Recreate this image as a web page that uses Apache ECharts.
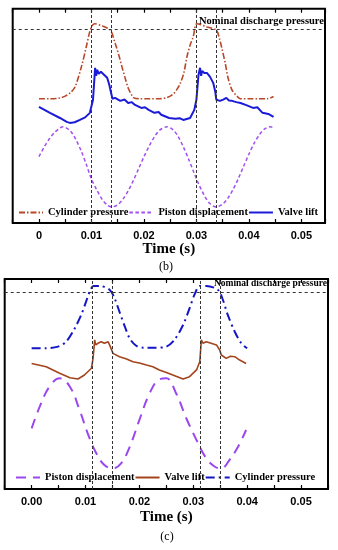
<!DOCTYPE html>
<html>
<head>
<meta charset="utf-8">
<script src="https://cdn.jsdelivr.net/npm/echarts@6/dist/echarts.min.js"></script>
<style>
html,body{margin:0;padding:0;background:#fff;}
#chart{width:338px;height:550px;}
</style>
</head>
<body>
<div id="chart"></div>
<script>
// ---------- Panel (b) ----------
const bCylT = [0, 0.002, 0.004, 0.005, 0.006, 0.0069, 0.0081, 0.009, 0.0096, 0.0101, 0.0106, 0.012, 0.0136, 0.0145, 0.0152, 0.0158, 0.0165, 0.017, 0.0176, 0.018, 0.019, 0.021, 0.023, 0.0244, 0.0255, 0.0262, 0.0269, 0.0276, 0.0282, 0.0288, 0.0294, 0.0301, 0.032, 0.0338, 0.0344, 0.0349, 0.0355, 0.036, 0.0368, 0.0378, 0.0384, 0.040, 0.042, 0.0435, 0.0447];
const bCylV = [58, 58, 58.3, 59.2, 60.8, 63.6, 73, 82, 88.5, 92, 93, 92, 90, 84, 78.5, 73, 67, 63, 60, 58.5, 58, 58, 58, 58.5, 60, 62, 65, 70, 77.6, 83, 87, 93, 91.5, 90, 86, 81, 74.5, 68, 62, 59, 58, 58, 58, 58, 59];

const bValT = [0, 0.0021, 0.004, 0.0053, 0.0059, 0.0068, 0.0078, 0.0088, 0.0097, 0.0103, 0.0107, 0.0109, 0.0111, 0.0114, 0.0118, 0.0124, 0.013, 0.0134, 0.0137, 0.014, 0.0145, 0.0155, 0.0163, 0.017, 0.0177, 0.0183, 0.0195, 0.0202, 0.0209, 0.022, 0.0228, 0.0233, 0.0248, 0.026, 0.0268, 0.0275, 0.0288, 0.0296, 0.03, 0.0304, 0.0307, 0.0309, 0.0311, 0.0315, 0.032, 0.0326, 0.0332, 0.0336, 0.0338, 0.0345, 0.0351, 0.0357, 0.0362, 0.0368, 0.0376, 0.0384, 0.0395, 0.0408, 0.0416, 0.0426, 0.0437, 0.0447];
const bValV = [54.2, 51.4, 49, 47.2, 46.7, 47, 48.1, 49.3, 51.4, 57.5, 72.4, 68.7, 71.5, 69.6, 70.6, 69.2, 67.8, 64.5, 61.2, 58, 58.4, 57, 57.6, 56, 56.4, 55.1, 53.7, 54, 52.8, 51.4, 51.8, 50.5, 49, 48.6, 48.9, 48.1, 49, 52.8, 57.5, 69.2, 72.4, 68.7, 71, 70, 70, 68.2, 65.4, 61.2, 57.5, 57, 57.6, 58.4, 57.2, 57, 56.4, 56, 55, 53.7, 54, 51.4, 50.9, 49.5];

const bPisT = [0, 0.001, 0.002, 0.003, 0.004, 0.0046, 0.006, 0.007, 0.008, 0.009, 0.010, 0.011, 0.012, 0.013, 0.0139, 0.015, 0.016, 0.017, 0.018, 0.019, 0.020, 0.021, 0.022, 0.023, 0.0244, 0.0255, 0.0265, 0.0275, 0.0285, 0.0295, 0.0305, 0.0315, 0.0325, 0.0338, 0.035, 0.036, 0.037, 0.038, 0.039, 0.040, 0.041, 0.042, 0.043, 0.0441, 0.0447];
const bPisV = [31, 35.5, 39.3, 42.3, 44.3, 44.9, 42.9, 39.1, 33.9, 27.5, 20.5, 15.5, 11.2, 8.4, 7.5, 8.5, 11.1, 15, 19.9, 25.4, 30.9, 35.9, 40.2, 43.3, 44.9, 43.6, 40.5, 35.6, 29.9, 23.7, 17.8, 12.9, 9.2, 7.5, 8.8, 11.6, 15.7, 20.8, 26.5, 32.1, 37.2, 41.2, 43.9, 44.9, 44.5];

const bVertLines = [0.0099, 0.0137, 0.0299, 0.0337];
const bNominal = 90.2;
const bTickLabels = [0, 0.01, 0.02, 0.03, 0.04, 0.05];

// ---------- Panel (c) ----------
const cCylT = [0, 0.0025, 0.0049, 0.0064, 0.008, 0.0092, 0.0101, 0.0109, 0.0115, 0.0126, 0.0145, 0.0154, 0.0163, 0.0173, 0.0182, 0.0194, 0.0207, 0.023, 0.025, 0.0265, 0.0281, 0.0293, 0.0302, 0.0312, 0.0324, 0.0346, 0.0355, 0.0364, 0.0377, 0.0389, 0.0400];
const cCylV = [67, 67, 67.8, 70.1, 76.5, 82.9, 89.2, 94.8, 96.7, 96.7, 94.8, 90.8, 84.4, 77.3, 71.7, 68.2, 67.3, 67.3, 67.8, 71, 78.1, 86, 92.4, 96.7, 96.7, 94.8, 90, 82.9, 74.9, 69.4, 67];

const cValT = [0, 0.0027, 0.0052, 0.0071, 0.0086, 0.0098, 0.0111, 0.0114, 0.0117, 0.0119, 0.0123, 0.0129, 0.0135, 0.0142, 0.0146, 0.0151, 0.0163, 0.0175, 0.0188, 0.02, 0.0213, 0.0225, 0.0237, 0.025, 0.0262, 0.0281, 0.0293, 0.0306, 0.0312, 0.0315, 0.0318, 0.0324, 0.0333, 0.0343, 0.0349, 0.0352, 0.0361, 0.0369, 0.0377, 0.0386, 0.0398];
const cValV = [59.8, 58.2, 55.1, 53, 52.4, 54.3, 57.5, 62.2, 71, 68.6, 69.4, 70.1, 69.4, 70.1, 67.8, 64.6, 63, 62, 60.6, 60, 59, 58.2, 56.7, 55.5, 54.3, 52.4, 53.5, 56.7, 60.6, 71, 69.4, 70.1, 69.4, 68.6, 66.2, 63.8, 62.2, 63.2, 63, 61.4, 59.8];

const cPisT = [0, 0.0015, 0.0033, 0.0052, 0.0071, 0.0089, 0.0104, 0.012, 0.0135, 0.0151, 0.0166, 0.0182, 0.02, 0.0219, 0.0237, 0.025, 0.0268, 0.0287, 0.0306, 0.0324, 0.034, 0.0352, 0.0367, 0.0383, 0.0398];
const cPisV = [28.9, 39.2, 48.7, 52.7, 48.7, 37.6, 26.5, 17, 11.4, 9.8, 12.2, 20.1, 32.9, 45.6, 52.2, 52.7, 45.6, 33.7, 23.3, 14.6, 10.6, 9.8, 13.8, 20.1, 28.1];

const cVertLines = [0.0113, 0.015, 0.0312, 0.035];
const cNominal = 93.8;
const cTickLabels = [0, 0.01, 0.02, 0.03, 0.04, 0.05];

const seriesNames = ['Cylinder pressure', 'Piston displacement', 'Valve lift'];
const nominalText = 'Nominal discharge pressure';
const axisTitle = 'Time (s)';

// ---------- build ----------
const zip = (t, v) => t.map((x, i) => [x, v[i]]);
const isLabelVal = (v, list) => list.some(l => Math.abs(l - v) < 1e-9);

function xAxes(grid, min, max, labels, decimals, nameGap) {
  const common = {
    type: 'value', gridIndex: grid, min: min, max: max, interval: 0.005,
    axisLine: {show: false}, splitLine: {show: false},
    axisTick: {show: true, inside: true, length: 4, lineStyle: {color: '#000', width: 1.2}}
  };
  return [
    Object.assign({}, common, {
      position: 'bottom',
      name: axisTitle, nameLocation: 'middle', nameGap: nameGap,
      nameTextStyle: {fontFamily: 'Liberation Serif', fontWeight: 'bold', fontSize: 15, color: '#000'},
      axisLabel: {
        show: true, margin: 7, color: '#000', fontFamily: 'Liberation Sans', fontWeight: 'bold', fontSize: 11,
        showMinLabel: true, showMaxLabel: true,
        formatter: v => isLabelVal(v, labels) ? (decimals === 0 && v === 0 ? '0' : v.toFixed(2)) : ''
      }
    }),
    Object.assign({}, common, {position: 'top', axisLabel: {show: false}})
  ];
}

function markLineFor(vert, nominal, fontSize) {
  return {
    silent: true, symbol: ['none', 'none'], precision: 6,
    lineStyle: {type: [3, 2], color: '#333', width: 1},
    label: {show: false},
    data: vert.map(v => ({xAxis: v})).concat([{
      yAxis: nominal,
      lineStyle: {type: [3, 3], color: '#333', width: 1},
      label: {show: true, position: 'insideEndTop', formatter: nominalText, distance: [1, 3],
        fontFamily: 'Liberation Serif', fontWeight: 'bold', fontSize: fontSize, color: '#000'}
    }])
  };
}

const baseLine = {type: 'line', symbol: 'none', showSymbol: false, animation: false};
const legendText = {fontFamily: 'Liberation Serif', fontWeight: 'bold', fontSize: 10.5, color: '#000'};

const option = {
  animation: false,
  backgroundColor: '#fff',
  grid: [
    {left: 12.7, top: 8.7, width: 312.3, height: 214.3, show: true, borderColor: '#000', borderWidth: 2, backgroundColor: 'transparent'},
    {left: 4.7, top: 279, width: 323.3, height: 210, show: true, borderColor: '#000', borderWidth: 2, backgroundColor: 'transparent'}
  ],
  xAxis: [].concat(
    xAxes(0, -0.005, 0.0545, bTickLabels, 0, 18),
    xAxes(1, -0.005, 0.055, cTickLabels, 2, 21)
  ),
  yAxis: [
    {type: 'value', gridIndex: 0, min: 0, max: 100, show: false},
    {type: 'value', gridIndex: 1, min: 0, max: 100, show: false}
  ],
  legend: [
    {
      left: 18, top: 207, itemWidth: 24, itemHeight: 12, itemGap: 0, padding: 0,
      itemStyle: {opacity: 0},
      data: ['Cylinder pressure (b)', 'Piston displacement (b)', 'Valve lift (b)'],
      formatter: n => n.replace(/ \([bc]\)$/, ''),
      textStyle: legendText
    },
    {
      left: 15, top: 472, itemWidth: 24, itemHeight: 12, itemGap: 0, padding: 0,
      itemStyle: {opacity: 0},
      data: ['Piston displacement (c)', 'Valve lift (c)', 'Cylinder pressure (c)'],
      formatter: n => n.replace(/ \([bc]\)$/, ''),
      textStyle: legendText
    }
  ],
  series: [
    Object.assign({}, baseLine, {
      name: seriesNames[0] + ' (b)', xAxisIndex: 0, yAxisIndex: 0, data: zip(bCylT, bCylV), smooth: 0.3,
      lineStyle: {color: '#b8472a', width: 1.6, type: [6, 2, 1.5, 2]}, itemStyle: {color: '#b8472a'},
      markLine: markLineFor(bVertLines, bNominal, 10.5), z: 3
    }),
    Object.assign({}, baseLine, {
      name: seriesNames[1] + ' (b)', xAxisIndex: 0, yAxisIndex: 0, data: zip(bPisT, bPisV), smooth: 0.3,
      lineStyle: {color: '#a24ff0', width: 1.5, type: [3.5, 2.5]}, itemStyle: {color: '#a24ff0'}
    }),
    Object.assign({}, baseLine, {
      name: seriesNames[2] + ' (b)', xAxisIndex: 0, yAxisIndex: 0, data: zip(bValT, bValV),
      lineStyle: {color: '#1a1ad8', width: 2}, itemStyle: {color: '#1a1ad8'}
    }),
    Object.assign({}, baseLine, {
      name: seriesNames[1] + ' (c)', xAxisIndex: 2, yAxisIndex: 1, data: zip(cPisT, cPisV), smooth: 0.4,
      lineStyle: {color: '#9a48ee', width: 2, type: [10, 7]}, itemStyle: {color: '#9a48ee'},
      markLine: markLineFor(cVertLines, cNominal, 9.5)
    }),
    Object.assign({}, baseLine, {
      name: seriesNames[2] + ' (c)', xAxisIndex: 2, yAxisIndex: 1, data: zip(cValT, cValV),
      lineStyle: {color: '#a3441c', width: 1.6}, itemStyle: {color: '#a3441c'}
    }),
    Object.assign({}, baseLine, {
      name: seriesNames[0] + ' (c)', xAxisIndex: 2, yAxisIndex: 1, data: zip(cCylT, cCylV), smooth: 0.3,
      lineStyle: {color: '#1414c8', width: 2, type: [9, 4, 2, 4]}, itemStyle: {color: '#1414c8'}
    })
  ],
  graphic: [
    {type: 'text', x: 166, y: 267, style: {text: '(b)', font: '12px "Liberation Serif"', fill: '#000', textAlign: 'center', textVerticalAlign: 'middle'}},
    {type: 'text', x: 167, y: 537, style: {text: '(c)', font: '12px "Liberation Serif"', fill: '#000', textAlign: 'center', textVerticalAlign: 'middle'}}
  ]
};

const chart = echarts.init(document.getElementById('chart'), null, {renderer: 'canvas'});
chart.setOption(option);
</script>
</body>
</html>
